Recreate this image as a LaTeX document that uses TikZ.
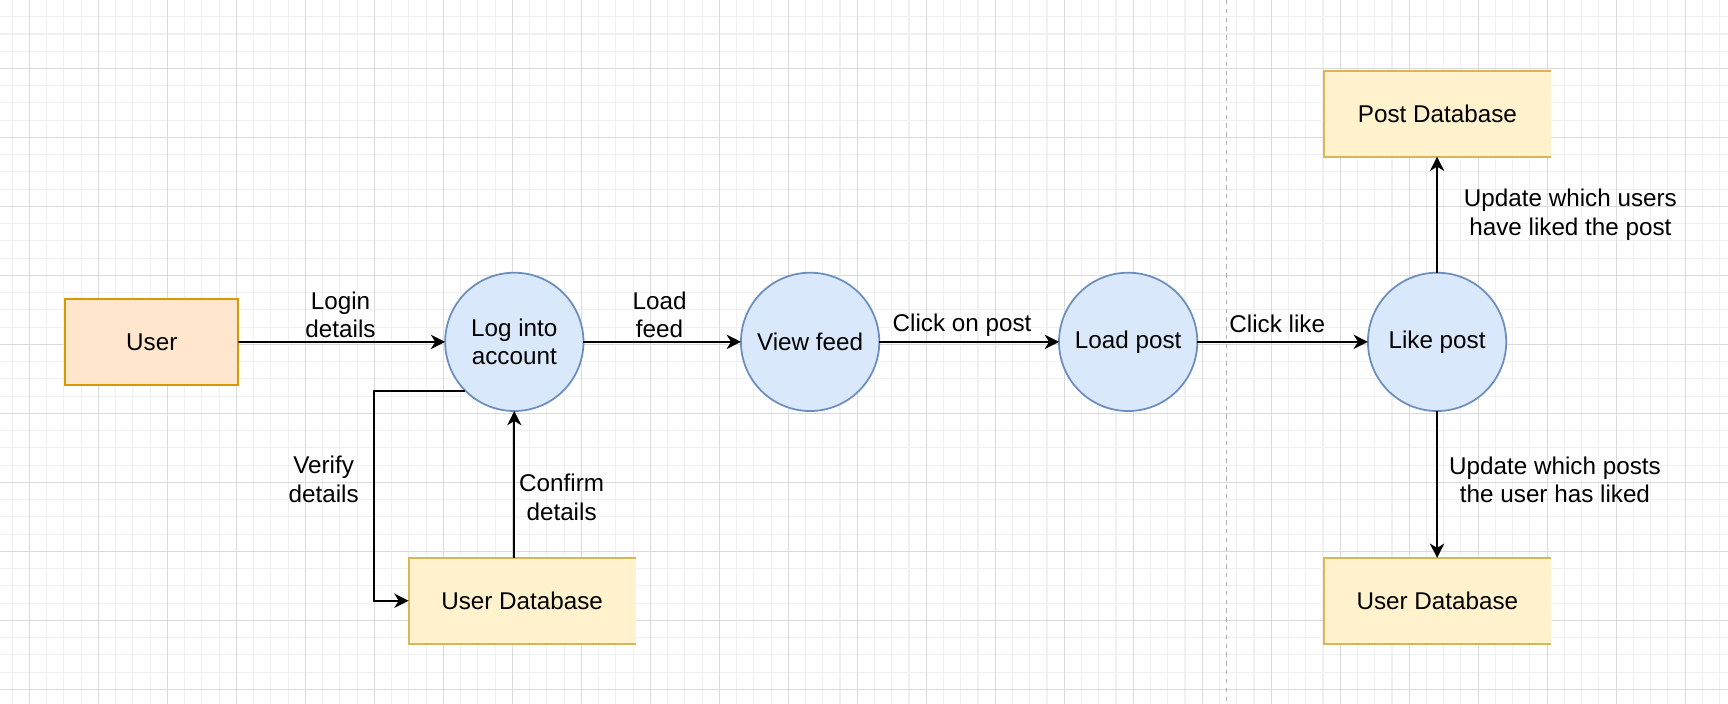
\documentclass[tikz,border=0pt]{standalone}
\usepackage{fontspec}
\setmainfont{Liberation Sans}
\usetikzlibrary{arrows.meta}
\definecolor{gmaj}{HTML}{DADADA}
\definecolor{gmin}{HTML}{F0F0F0}
\definecolor{procfill}{HTML}{DAE8FC}
\definecolor{procline}{HTML}{6C8EBF}
\definecolor{extfill}{HTML}{FFE6CC}
\definecolor{extline}{HTML}{D79B00}
\definecolor{dbfill}{HTML}{FFF2CC}
\definecolor{dbline}{HTML}{D6B656}
\definecolor{sepline}{HTML}{B0B0B0}
\begin{document}
\begin{tikzpicture}[x=0.5pt,y=-0.5pt,
  every node/.style={font=\fontsize{11}{13}\selectfont, text=black, outer sep=0pt},
  proc/.style={circle, draw=procline, fill=procfill, line width=0.8pt, minimum size=62.75pt, inner sep=0pt, align=center},
  ext/.style={rectangle, draw=extline, fill=extfill, line width=0.8pt, minimum width=78.5pt, minimum height=39pt, inner sep=0pt},
  store/.style={rectangle, fill=dbfill, minimum width=103pt, minimum height=39pt, inner sep=0pt},
  storeedge/.style={draw=dbline, line width=0.8pt},
  flow/.style={draw=black, line width=0.8pt, -{Stealth[length=6.5pt,width=6.5pt,inset=2pt]}},
  lbl/.style={align=center, inner sep=0pt},
]
% canvas and grid
\useasboundingbox (0,0) rectangle (1568,638.8);
\fill[white] (0,0) rectangle (1568,638.8);
\begin{scope}
  \clip (0,0) rectangle (1568,638.8);
  \begin{scope}[shift={(26.7,-0.5)}]
    \draw[gmin, line width=0.5pt, step=7.825pt] (-40,700) grid (1600,-40);
    \draw[gmaj, line width=0.5pt, step=31.3pt] (-40,700) grid (1600,-40);
  \end{scope}
\end{scope}
% separator
\coordinate (sepTop) at (1112.8,0);
\coordinate (sepBot) at (1112.8,638.8);
\draw[sepline, line width=0.6pt, dash pattern=on 2pt off 2pt] (sepTop) -- (sepBot);

% nodes
\node[ext] (user) at (137.7,310.3) {User};
\node[proc] (login) at (466.7,310.2) {Log into\\account};
\node[proc] (view) at (735.1,310.2) {View feed};
\node[proc] (loadp) at (1023.7,310.2) {Load post};
\node[proc] (like) at (1304,310.2) {Like post};
\node[store] (pdb) at (1304.3,103.2) {Post Database};
\node[store] (udbl) at (473.8,545.1) {User Database};
\node[store] (udbr) at (1304.3,545.2) {User Database};
\draw[storeedge] (pdb.north east) -- (pdb.north west) -- (pdb.south west) -- (pdb.south east);
\draw[storeedge] (udbl.north east) -- (udbl.north west) -- (udbl.south west) -- (udbl.south east);
\draw[storeedge] (udbr.north east) -- (udbr.north west) -- (udbr.south west) -- (udbr.south east);

% connectors
\draw[flow] (user) -- (login);
\draw[flow] (login) -- (view);
\draw[flow] (view) -- (loadp);
\draw[flow] (loadp) -- (like);
\draw[flow] (like.north) -- (like.north |- pdb.south);
\draw[flow] (like.south) -- (like.south |- udbr.north);
\draw[flow] (login.south |- udbl.north) -- (login.south);
\coordinate (vbend) at (339.5,354.5);
\draw[flow] (login.225) -- (login.225 -| vbend) |- (udbl.west);

% labels
\node[lbl] (lLogin) at (309,285.7) {Login\\details};
\node[lbl] (lFeed) at (598.5,285.7) {Load\\feed};
\node[lbl, anchor=base] (lClick) at (873,301) {Click on post};
\node[lbl, anchor=base] (lLike) at (1159,301.5) {Click like};
\node[lbl] (lUsers) at (1425,195) {Update which users\\have liked the post};
\node[lbl] (lPosts) at (1411,435.4) {Update which posts\\the user has liked};
\node[lbl] (lVerify) at (293.7,435.1) {Verify\\details};
\node[lbl] (lConfirm) at (509.6,451.2) {Confirm\\details};
\end{tikzpicture}
\end{document}
